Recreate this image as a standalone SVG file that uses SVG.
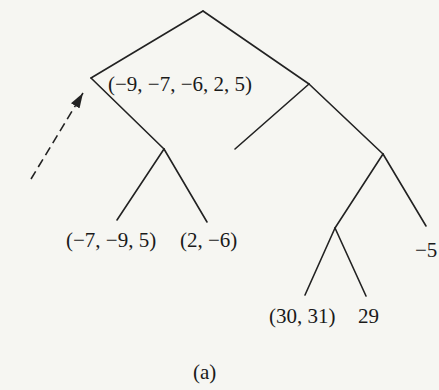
<svg xmlns="http://www.w3.org/2000/svg" width="439" height="390" viewBox="0 0 439 390">
  <defs>
    <style>
      .edge { stroke: #222; stroke-width: 1.6; fill: none; stroke-linecap: round; }
      .dash { stroke: #222; stroke-width: 1.6; fill: none; stroke-dasharray: 9 5; }
      .lbl { font-family: "Liberation Serif", "Times New Roman", serif; font-size: 21px; fill: #1a1a1a; }
    </style>
    <marker id="head" markerUnits="userSpaceOnUse" markerWidth="16" markerHeight="10" refX="15" refY="5" orient="auto">
      <path d="M0,0 L15,5 L0,10 Z" fill="#222"/>
    </marker>
  </defs>
  <rect width="439" height="390" fill="#f6f6f2"/>
  <g id="connectors">
    <line class="edge" x1="203" y1="11" x2="91" y2="78"/>
    <line class="edge" x1="91" y1="78" x2="164" y2="149"/>
    <line class="edge" x1="164" y1="149" x2="117" y2="220"/>
    <line class="edge" x1="164" y1="149" x2="207" y2="222"/>
    <line class="edge" x1="203" y1="11" x2="309" y2="84"/>
    <line class="edge" x1="309" y1="84" x2="235" y2="149"/>
    <line class="edge" x1="309" y1="84" x2="383" y2="154"/>
    <line class="edge" x1="383" y1="154" x2="426" y2="226"/>
    <line class="edge" x1="383" y1="154" x2="335" y2="228"/>
    <line class="edge" x1="335" y1="228" x2="305" y2="295"/>
    <line class="edge" x1="335" y1="228" x2="366" y2="296"/>
    <line class="dash" x1="31" y1="179" x2="83" y2="93" marker-end="url(#head)"/>
  </g>
  <g id="node-root"/>
  <g id="node-left"><text class="lbl" x="108" y="91">(−9, −7, −6, 2, 5)</text></g>
  <g id="node-left-left"><text class="lbl" x="66" y="247">(−7, −9, 5)</text></g>
  <g id="node-left-right"><text class="lbl" x="180" y="247">(2, −6)</text></g>
  <g id="node-right-left"/>
  <g id="node-right-right-right"><text class="lbl" x="415" y="257">−5</text></g>
  <g id="node-c-left"><text class="lbl" x="269" y="323">(30, 31)</text></g>
  <g id="node-c-right"><text class="lbl" x="358" y="323">29</text></g>
  <g id="caption"><text class="lbl" x="193" y="379">(a)</text></g>
</svg>
